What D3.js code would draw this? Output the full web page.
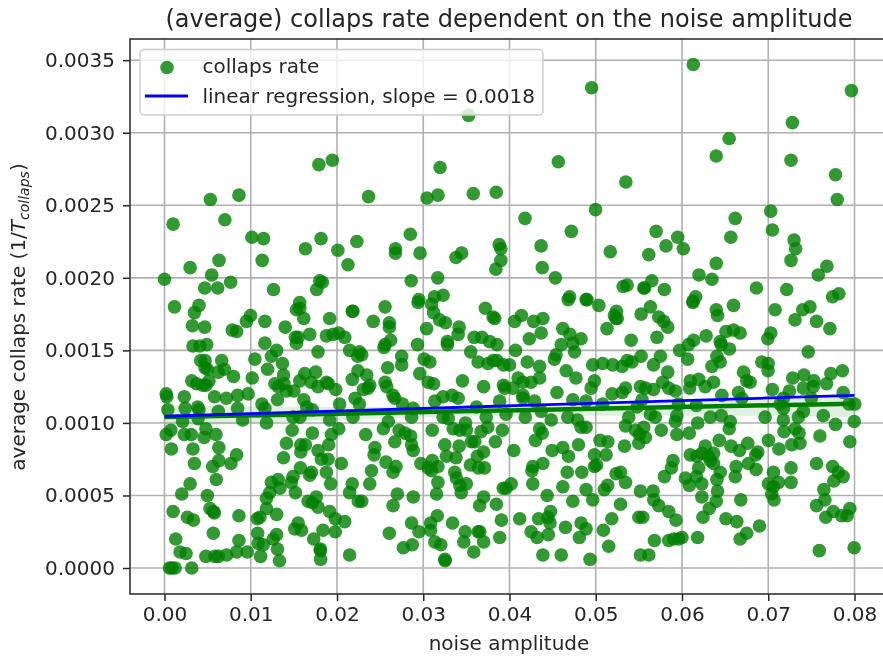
<!DOCTYPE html>
<html>
<head>
<meta charset="utf-8">
<script src="https://cdn.jsdelivr.net/npm/d3@7"></script>
<style>
  html, body { margin: 0; padding: 0; background: #fff; }
  svg { display: block; font-family: "DejaVu Sans", sans-serif; filter: blur(0.4px); }
</style>
</head>
<body>
<div id="chart"></div>
<script>
// Chart text
const chartTitle = "(average) collaps rate dependent on the noise amplitude";
const xLabel = "noise amplitude";
const legendLabels = ["collaps rate", "linear regression, slope = 0.0018"];

// Axis ticks and limits
const xTicks = [0, 0.01, 0.02, 0.03, 0.04, 0.05, 0.06, 0.07, 0.08];
const yTicks = [0, 0.0005, 0.001, 0.0015, 0.002, 0.0025, 0.003, 0.0035];
const xLimits = [-0.004, 0.084];
const yLimits = [-0.000179, 0.003646];

// Straight fit drawn in blue
const fitX = [0, 0.08];
const fitY = [0.001046, 0.00119];

// Second fit with its confidence band, drawn in green
const bandX = [0, 0.02, 0.04, 0.06, 0.08];
const bandLow = [0.00097, 0.00102, 0.00105, 0.00105, 0.00104];
const bandHigh = [0.00112, 0.00111, 0.00112, 0.00115, 0.00118];
const greenFitX = [0, 0.08];
const greenFitY = [0.00104, 0.001133];

// Scatter points: [noise amplitude, collaps rate]
const collapsPoints = [
  [.03526,.00312],[.0179,.00278],[.01946,.00281],[.03195,.00276],[.00863,.00257],[.00532,.00254],[.02366,.00256],[.03044,.00255],[.03171,.00257],[.0358,.00258],
  [.03846,.00259],[.001,.00237],[.007,.0024],[.01013,.00228],[.01148,.00227],[.01815,.00227],[.01634,.0022],[.0201,.00219],[.0223,.00225],[.0285,.0023],
  [.02678,.0022],[.02678,.00217],[.02963,.00217],[.03445,.00217],[.0338,.00214],[.0388,.00223],[.039,.0022],[.039,.00212],[.03842,.00206],[.02127,.00209],
  [.01133,.00212],[.00632,.00212],[.00297,.00207],[.00547,.00202],[0,.00199],[.00767,.00197],[.00466,.00193],[.00617,.00193],[.01264,.00192],[.018,.00198],
  [.0183,.00197],[.01765,.00192],[.0286,.00198],[.03168,.002],[.0323,.00188],[.0313,.00187],[.02948,.00185],
  [.06131,.00347],[.04952,.00331],[.07965,.00329],[.0728,.00307],[.06547,.00296],[.06397,.00284],[.07264,.00281],[.04566,.0028],[.0778,.00271],[.05349,.00266],
  [.078,.00254],[.04998,.00247],[.07029,.00246],[.0418,.00241],[.06617,.00241],[.07048,.00233],[.04717,.00232],[.057,.00232],[.0595,.00228],[.06566,.00228],
  [.07299,.00226],[.07318,.0022],[.06015,.0022],[.04366,.00222],[.05815,.00222],[.05168,.00218],[.05615,.00216],[.07264,.00212],[.06397,.0021],[.0768,.00208],
  [.0758,.00202],[.0438,.00207],[.06197,.00202],[.06347,.00199],[.04532,.002],[.0565,.00198],[.05318,.00194],[.05364,.00195],[.05557,.00193],[.05565,.00193],
  [.05796,.00192],[.06863,.00193],[.07214,.00192],[.04697,.00187],[.04898,.00185],[.06158,.00187],[.06127,.00184],[.07819,.00189],[.07746,.00187],
  [.00116,.0018],[.004,.00181],[.00347,.00176],[.00324,.00167],[.00466,.00166],[.0033,.00153],[.0049,.00154],[.0041,.00153],[.00786,.00164],[.00836,.00163],
  [.0095,.0017],[.00998,.00174],[.01164,.0017],[.014,.00166],[.01568,.00183],[.01568,.00179],[.0153,.00178],[.01615,.00172],[.01915,.00172],[.02177,.00177],
  [.02185,.00177],[.01518,.00159],[.0155,.00159],[.0153,.00155],[.01684,.00161],[.01877,.0016],[.01954,.00161],[.0202,.00162],[.0209,.00159],[.01164,.00155],
  [.013,.0015],[.0124,.00146],[.0178,.00149],[.02147,.0015],[.0226,.00149],[.0224,.00146],[.01048,.00144],[.01368,.00141],[.01195,.00137],[.00663,.00143],
  [.0042,.00143],[.0047,.00143],[.0047,.00138],[.00497,.00137],[.00694,.00137],[.00624,.00135],[.008,.00132],[.01017,.00131],[.00316,.00129],[.00374,.00127],
  [.00443,.00126],[.00516,.00129],[.0048,.00126],[.0138,.00133],[.0128,.00127],[.0132,.00125],[.01387,.00127],[.0131,.00116],[.01414,.00122],[.015,.00122],
  [.01568,.00129],[.01627,.00134],[.01753,.00135],[.017,.00128],[.0178,.00125],[.01877,.00128],[.019,.00127],[.01985,.00123],[.02177,.0013],[.02243,.00136],
  [.0002,.0012],[.00027,.00118],[.0023,.00118],[.0058,.00118],[.00717,.00117],[.00848,.00119],[.0097,.0012],[.00039,.00109],[.0024,.0011],[.00385,.00111],
  [.004,.00109],[.00624,.00108],[.00848,.0011],[.0113,.00113],[.01164,.0011],[.01615,.00116],[.0165,.00111],[.01715,.00109],[.0203,.00113],[.0221,.00117],
  [.0226,.00113],[.0039,.00103],[.0021,.00101],[.00906,.00102],[.01183,.001],[.0149,.00104],[.0157,.00104],[.01915,.00102],[.02185,.00104],[.0048,.00096],
  [.00073,.00095],[.0002,.00092],[.0023,.00092],[.0031,.00092],[.0046,.0009],[.00597,.00092],[.0148,.00095],[.01715,.00093],[.0202,.00096],[.01935,.00092],
  [.0008,.00082],[.0033,.00082],[.0063,.00083],[.01414,.00086],[.0158,.00085],[.01634,.00085],[.0158,.0008],[.0178,.00081],[.01904,.00085],[.00836,.00078],
  [.0063,.00074],[.00559,.0007],[.0077,.00072],[.00347,.00072],[.0138,.00076],[.0182,.00075],[.01896,.00075],[.0205,.00072],[.01576,.00069],[.01684,.00064],
  [.01703,.00066],[.01877,.00066],[.0149,.00063],[.0147,.00059],[.01927,.00058],[.006,.00061],[.00297,.00058],[.002,.00051],[.00497,.0005],[.0124,.00059],
  [.01318,.00061],[.01338,.00055],[.0122,.00052],[.01183,.00048],[.01518,.00052],[.02177,.00058],[.02146,.00052],[.02247,.00046],[.001,.00039],[.00266,.00035],
  [.00335,.00033],[.00528,.00041],[.00566,.00039],[.00578,.00038],[.00863,.00036],[.01183,.00041],[.013,.00037],[.01106,.00035],[.01075,.00034],[.01665,.00046],
  [.01715,.00045],[.0176,.00049],[.0178,.00042],[.01915,.00039],[.0198,.00034],[.02089,.00032],[.0198,.00025],[.01838,.00026],[.0155,.00031],[.0151,.00027],
  [.01588,.00026],[.00566,.00024],[.0013,.0002],[.00863,.00019],[.0108,.00024],[.013,.00023],[.0126,.0002],[.01087,.00017],[.01145,.00016],[.0131,.00013],
  [.0173,.0002],[.01807,.00013],[.01807,.00012],[.0181,.00006],[.02146,.00009],[.0018,.00011],[.0025,.0001],[.0048,.00008],[.00586,.00008],[.00624,.00008],
  [.0072,.00009],[.00836,.00011],[.0096,.00011],[.01114,.00008],[.01333,.00005],[.00058,0],[.00085,0],[.00123,0],[.00316,0],
  [.02557,.0018],[.0242,.0017],[.02607,.00169],[.02607,.00166],[.02622,.00157],[.02557,.00154],[.02545,.00152],[.0294,.00183],[.03096,.00182],[.0312,.00176],
  [.0319,.00171],[.03258,.00169],[.03039,.00165],[.03416,.00166],[.03405,.00161],[.0328,.00156],[.0328,.00154],[.02934,.00154],[.0372,.00179],[.0381,.00173],
  [.03829,.00172],[.0406,.0017],[.04139,.00174],[.0428,.0017],[.04387,.00172],[.04367,.00162],[.0423,.00158],[.0359,.00159],[.0368,.00159],[.0377,.00156],
  [.03855,.00154],[.0355,.00149],[.0407,.0015],[.04618,.00165],[.047,.00161],[.0483,.00158],[.046,.00154],[.04735,.00155],[.04754,.00149],[.0454,.00147],
  [.0452,.00144],[.0513,.00165],[.05216,.00174],[.05235,.00172],[.0468,.00185],[.04888,.00185],[.05035,.00181],[.0275,.00146],[.0275,.0014],[.02588,.00138],
  [.0301,.00144],[.03077,.00142],[.02287,.00147],[.03636,.00142],[.0375,.00141],[.0381,.00143],[.03855,.00143],[.0393,.0014],[.04,.0014],[.04206,.00142],
  [.04349,.00139],[.04657,.00136],[.0477,.00131],[.04965,.0014],[.0508,.00141],[.05197,.0014],[.04985,.00129],[.04946,.00124],[.0296,.00134],[.03058,.00128],
  [.0312,.00127],[.03455,.00129],[.037,.00125],[.0393,.00126],[.03944,.00124],[.0404,.00124],[.041,.00131],[.04156,.00128],[.0425,.00128],[.0435,.00131],
  [.04156,.00119],[.04156,.00117],[.0455,.00121],[.02557,.00128],[.0238,.00126],[.02345,.00133],[.02306,.00123],[.0236,.00124],[.02576,.00125],[.0265,.00119],
  [.0267,.00117],[.0276,.00113],[.02884,.0011],[.03135,.00115],[.0323,.00118],[.03335,.00119],[.03405,.00117],[.03617,.00111],[.03886,.00115],[.0429,.00115],
  [.04734,.00116],[.04888,.00115],[.0508,.00113],[.0519,.0012],[.02865,.00104],[.02595,.00101],[.02538,.00096],[.02333,.00092],[.0272,.00095],[.02788,.00093],
  [.02854,.00091],[.0267,.00087],[.02865,.00085],[.02884,.00081],[.0244,.00083],[.0243,.00078],[.02568,.00073],[.02684,.0007],[.0265,.00066],[.024,.00067],
  [.0238,.00058],[.027,.00051],[.02884,.00049],[.0265,.00043],[.02287,.00046],[.03104,.00095],[.0323,.00104],[.0329,.00103],[.03347,.00096],[.03424,.00095],
  [.0349,.001],[.035,.00095],[.0367,.00094],[.03747,.00097],[.0373,.00104],[.03917,.00095],[.0396,.00106],[.03836,.00087],[.03597,.00087],[.03559,.00087],
  [.0325,.00085],[.03416,.00084],[.037,.0008],[.03628,.00077],[.0327,.00077],[.0338,.00076],[.03547,.00071],[.0371,.00069],[.0364,.00069],[.0405,.00081],
  [.03104,.00074],[.02973,.00072],[.03058,.00069],[.0317,.0007],[.03096,.00067],[.03366,.00066],[.03385,.00062],[.03424,.00057],[.035,.00058],[.0344,.00052],
  [.0317,.00059],[.03154,.00051],[.037,.00049],[.03654,.00043],[.03848,.00044],[.03928,.00055],[.0402,.00058],[.0396,.00055],[.0427,.00058],[.0426,.00067],
  [.0427,.0007],[.04387,.00072],[.04437,.0005],[.04618,.00056],[.04734,.00046],[.04669,.00066],[.04838,.00066],[.04888,.00054],[.04965,.00047],[.051,.00054],
  [.05138,.00057],[.05235,.00065],[.04985,.0007],[.0501,.00071],[.04985,.00078],[.0512,.00078],[.0514,.00087],[.0505,.00088],[.048,.00085],[.04684,.00077],
  [.04618,.00083],[.04495,.00081],[.043,.00088],[.04349,.00096],[.0438,.00093],[.04888,.00097],[.0483,.00097],[.0479,.00102],[.04676,.00104],[.04484,.00102],
  [.04183,.00104],[.04368,.00108],[.02865,.00031],[.0295,.00025],[.03085,.00031],[.03163,.00036],[.03085,.00026],[.02607,.00024],[.02769,.00014],[.02873,.00016],
  [.03135,.00018],[.03204,.00016],[.0325,.00006],[.03254,.00005],[.03339,.00031],[.03486,.00025],[.0347,.00018],[.03655,.00025],[.03636,.00025],[.037,.00018],
  [.03586,.00011],[.03906,.00033],[.03886,.00021],[.04118,.00034],[.04337,.00034],[.04445,.00035],[.04476,.00039],[.0447,.00031],[.0425,.00025],[.0432,.00021],
  [.0445,.00023],[.04387,.00009],[.046,.00009],[.04649,.00028],[.0483,.00031],[.04888,.00027],[.0481,.00021],[.05089,.00026],[.05186,.00034],[.0515,.00015],
  [.04934,.00006],
  [.05634,.0018],[.05526,.00175],[.0573,.00173],[.05788,.0017],[.05834,.00166],[.0571,.00159],[.0541,.00157],[.0524,.00177],[.05249,.00172],[.06127,.00183],
  [.06397,.00178],[.06412,.00174],[.06597,.00181],[.07079,.00178],[.07399,.00178],[.07484,.0018],[.0731,.00171],[.0756,.0017],[.07715,.00165],[.0628,.0016],
  [.06135,.00157],[.06077,.00154],[.05973,.0015],[.06066,.00144],[.0651,.00163],[.06597,.00164],[.06674,.00162],[.06443,.00156],[.06455,.00154],[.0655,.00151],
  [.06405,.00146],[.06443,.00142],[.06347,.00139],[.07029,.00162],[.06994,.00158],[.07464,.00149],[.06925,.00142],[.07,.00141],[.06998,.00136],[.06713,.00135],
  [.0675,.00129],[.0679,.00128],[.05526,.00146],[.0575,.00146],[.0542,.00142],[.05364,.00143],[.05306,.00139],[.0567,.0014],[.05834,.00135],[.05776,.00128],
  [.0567,.00123],[.05518,.00125],[.05576,.00124],[.05345,.00124],[.05306,.00121],[.05846,.00124],[.05923,.00122],[.06096,.00129],[.06089,.00124],[.06193,.0013],
  [.0627,.00125],[.06366,.00128],[.06462,.00119],[.06655,.00121],[.06694,.00117],[.07048,.00123],[.07283,.00131],[.07414,.00133],[.0753,.00129],[.07522,.00125],
  [.07407,.00124],[.07676,.00127],[.07726,.00134],[.0786,.00136],[.07869,.00121],[.07245,.00122],[.07175,.00117],[.075,.00117],[.05537,.00116],[.0596,.00113],
  [.06166,.00112],[.0548,.00111],[.07175,.0011],[.07137,.00113],[.07938,.00113],[.08004,.00113],[.0569,.00104],[.05634,.00106],[.0594,.00105],[.05383,.00104],
  [.05345,.00098],[.0546,.00095],[.05556,.00097],[.05507,.00092],[.05576,.0009],[.05499,.00086],[.0576,.00095],[.05923,.00101],[.0594,.00092],[.06085,.00093],
  [.06182,.001],[.06328,.00104],[.06455,.00105],[.06559,.00101],[.06547,.00096],[.06963,.00104],[.07175,.00102],[.07349,.00104],[.07407,.00108],[.07638,.00105],
  [.0778,.00099],[.07996,.00101],[.07183,.00094],[.0731,.00096],[.07357,.00093],[.07599,.00091],[.07946,.00087],[.07002,.00088],[.07124,.00082],[.07272,.00085],
  [.07368,.00086],[.06432,.00088],[.06569,.00084],[.06667,.00081],[.06763,.00086],[.06879,.0008],[.06855,.00078],[.0677,.00072],[.06859,.00068],[.06628,.0007],
  [.06617,.00063],[.06443,.00066],[.06405,.00061],[.0627,.00084],[.06096,.00078],[.06173,.00077],[.0623,.00079],[.06308,.00077],[.06366,.00079],[.06328,.00074],
  [.06366,.00072],[.06193,.00069],[.06166,.00063],[.05896,.00074],[.05877,.00069],[.05796,.00063],[.06039,.00062],[.06085,.00057],[.0623,.00058],[.06412,.00053],
  [.0623,.00049],[.06397,.00046],[.06316,.00041],[.06243,.00035],[.06682,.00047],[.06509,.00034],[.06636,.00032],[.06898,.00029],[.0675,.00024],[.06674,.0002],
  [.06181,.00021],[.0706,.00066],[.07118,.00059],[.07002,.00058],[.0706,.00056],[.0704,.00051],[.07067,.00047],[.07264,.00069],[.07264,.00059],[.0756,.00072],
  [.07746,.0007],[.07811,.00066],[.07869,.00063],[.0776,.0006],[.07645,.00054],[.07657,.00047],[.0756,.00043],[.07753,.00039],[.07668,.00035],[.0785,.00036],
  [.07915,.00036],[.07946,.00041],[.07592,.00012],[.07996,.00014],[.05287,.00066],[.05345,.00059],[.05518,.00053],[.05665,.00053],[.05672,.00047],[.0573,.00043],
  [.05846,.00039],[.0593,.00033],[.05287,.00044],[.055,.00035],[.05545,.00035],[.0568,.00019],[.05846,.00019],[.05904,.0002],[.0596,.0002],[.06,.00021],
  [.05518,.00009],[.05615,.00009],[.05333,.00084]
];

// Fixed frame of the picture
const width = 883;
const height = 656;
const plot = { left: 130, right: 889, top: 39, bottom: 594 };
const fontSize = 20;

const svg = d3.select("#chart").append("svg")
    .attr("width", width)
    .attr("height", height)
    .attr("viewBox", `0 0 ${width} ${height}`);

const x = d3.scaleLinear().domain(xLimits).range([plot.left, plot.right]);
const y = d3.scaleLinear().domain(yLimits).range([plot.bottom, plot.top]);

// Grid lines sit under everything else
svg.append("g").selectAll("line")
  .data(xTicks)
  .join("line")
    .attr("x1", d => x(d)).attr("x2", d => x(d))
    .attr("y1", plot.top).attr("y2", plot.bottom)
    .attr("stroke", "#b0b0b0")
    .attr("stroke-width", 1.6);

svg.append("g").selectAll("line")
  .data(yTicks)
  .join("line")
    .attr("x1", plot.left).attr("x2", plot.right)
    .attr("y1", d => y(d)).attr("y2", d => y(d))
    .attr("stroke", "#b0b0b0")
    .attr("stroke-width", 1.6);

// Confidence band of the green fit
const band = d3.area()
    .x(d => x(d))
    .y0((d, i) => y(bandLow[i]))
    .y1((d, i) => y(bandHigh[i]))
    .curve(d3.curveMonotoneX);

svg.append("path")
    .attr("d", band(bandX))
    .attr("fill", "green")
    .attr("fill-opacity", 0.12);

// Scatter
svg.append("g").selectAll("circle")
  .data(collapsPoints)
  .join("circle")
    .attr("cx", d => x(d[0]))
    .attr("cy", d => y(d[1]))
    .attr("r", 6.8)
    .attr("fill", "green")
    .attr("fill-opacity", 0.8);

// Both fits on top of the points
const fitLine = d3.line().x(d => x(d[0])).y(d => y(d[1]));

svg.append("path")
    .attr("d", fitLine(d3.zip(greenFitX, greenFitY)))
    .attr("fill", "none")
    .attr("stroke", "green")
    .attr("stroke-width", 4.5);

svg.append("path")
    .attr("d", fitLine(d3.zip(fitX, fitY)))
    .attr("fill", "none")
    .attr("stroke", "blue")
    .attr("stroke-width", 2.8);

// Axes
const xAxis = svg.append("g")
    .attr("transform", `translate(0,${plot.bottom})`)
    .call(d3.axisBottom(x).tickValues(xTicks).tickFormat(d3.format(".2f")).tickSize(7).tickPadding(6));

const yAxis = svg.append("g")
    .attr("transform", `translate(${plot.left},0)`)
    .call(d3.axisLeft(y).tickValues(yTicks).tickFormat(d3.format(".4f")).tickSize(7).tickPadding(8));

[xAxis, yAxis].forEach(axis => {
  axis.selectAll("text")
      .attr("fill", "#262626")
      .style("font-family", '"DejaVu Sans", sans-serif')
      .style("font-size", fontSize + "px");
  axis.selectAll("line").attr("stroke", "#262626").attr("stroke-width", 1.5);
  axis.select(".domain").remove();
});

// Frame, the right edge falls outside the picture
svg.append("rect")
    .attr("x", plot.left).attr("y", plot.top)
    .attr("width", plot.right - plot.left)
    .attr("height", plot.bottom - plot.top)
    .attr("fill", "none")
    .attr("stroke", "#333")
    .attr("stroke-width", 1.6);

// Legend
const legend = svg.append("g");

legend.append("rect")
    .attr("x", 140).attr("y", 49.5)
    .attr("width", 403).attr("height", 65.5)
    .attr("rx", 4)
    .attr("fill", "#fff").attr("fill-opacity", 0.8)
    .attr("stroke", "#ccc").attr("stroke-width", 1.4);

legend.append("circle")
    .attr("cx", 167).attr("cy", 67.5).attr("r", 6.8)
    .attr("fill", "green").attr("fill-opacity", 0.8);

legend.append("line")
    .attr("x1", 145).attr("x2", 188)
    .attr("y1", 96).attr("y2", 96)
    .attr("stroke", "blue").attr("stroke-width", 2.8);

legend.selectAll("text")
  .data(legendLabels)
  .join("text")
    .attr("x", 202.5)
    .attr("y", (d, i) => 72.5 + i * 30)
    .attr("fill", "#262626")
    .style("font-size", fontSize + "px")
    .text(d => d);

// Title and axis labels
svg.append("text")
    .attr("x", 509).attr("y", 27)
    .attr("text-anchor", "middle")
    .attr("fill", "#262626")
    .style("font-size", "24px")
    .text(chartTitle);

svg.append("text")
    .attr("x", 509).attr("y", 650)
    .attr("text-anchor", "middle")
    .attr("fill", "#262626")
    .style("font-size", fontSize + "px")
    .text(xLabel);

const yTitle = svg.append("text")
    .attr("transform", "translate(25,317) rotate(-90)")
    .attr("text-anchor", "middle")
    .attr("fill", "#262626")
    .style("font-size", fontSize + "px");

yTitle.append("tspan").text("average collaps rate (1/");
yTitle.append("tspan").attr("font-style", "italic").text("T");
yTitle.append("tspan").attr("font-style", "italic").attr("dy", 4).style("font-size", "14px").text("collaps");
yTitle.append("tspan").attr("dy", -4).text(")");
</script>
</body>
</html>
